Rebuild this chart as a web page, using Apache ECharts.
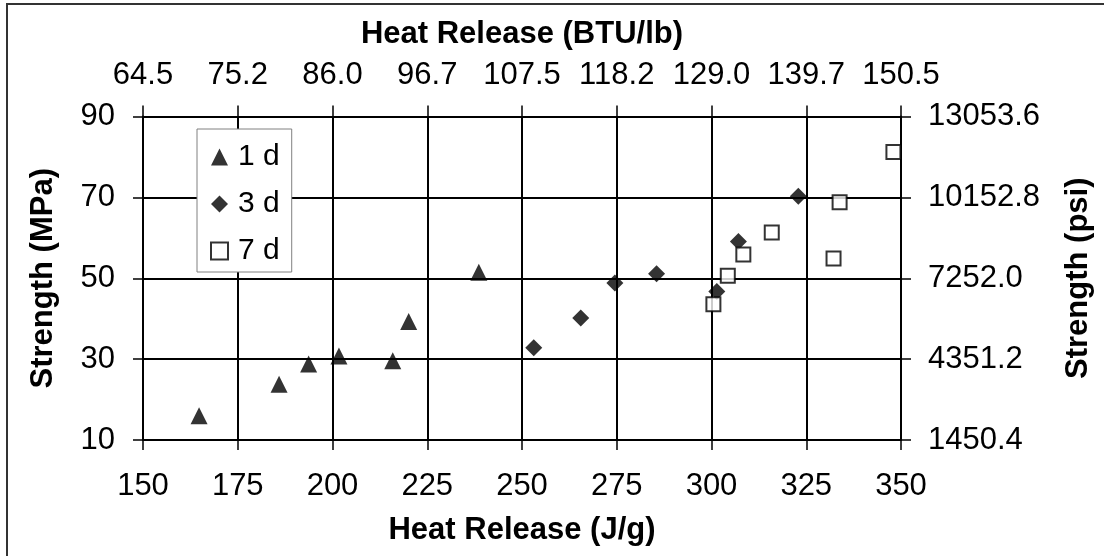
<!DOCTYPE html>
<html>
<head>
<meta charset="utf-8">
<script src="https://cdn.jsdelivr.net/npm/echarts@6/dist/echarts.min.js"></script>
<style>
  html, body { margin: 0; padding: 0; background: #fff; }
  #chart { width: 1104px; height: 556px; }
</style>
</head>
<body>
<div id="chart"></div>
<script>
// [heat release J/g, strength MPa]
const day1 = [[164.8, 16.0], [185.9, 23.8], [193.7, 28.8], [201.7, 30.8], [215.9, 29.6], [220.1, 39.3], [238.6, 51.5]];
const day3 = [[253.1, 32.8], [265.5, 40.2], [274.5, 48.8], [285.5, 51.1], [301.4, 46.7], [307.1, 59.1], [322.9, 70.3]];
const day7 = [[300.5, 43.6], [304.3, 50.6], [308.4, 55.9], [315.9, 61.3], [332.2, 54.9], [333.8, 68.8], [348.0, 81.2]];

const seriesNames = ["1 d", "3 d", "7 d"];

// secondary axis labels (unit conversions printed on the original)
const btuLabels = ["64.5", "75.2", "86.0", "96.7", "107.5", "118.2", "129.0", "139.7", "150.5"];
const psiLabels = ["1450.4", "4351.2", "7252.0", "10152.8", "13053.6"];

const font = 'Arial, "Liberation Sans", sans-serif';
const black = "#000";

const tickFont = { fontSize: 31, color: black, fontFamily: font };
const titleFont = { fontSize: 31, fontWeight: "bold", color: black, fontFamily: font };

const chart = echarts.init(document.getElementById("chart"));

const option = {
  animation: false,
  textStyle: { fontFamily: font, color: black },
  graphic: [
    {
      type: "rect",
      silent: true,
      shape: { x: 7, y: 4, width: 1150, height: 600 },
      style: { fill: "none", stroke: "#333", lineWidth: 2 },
    },
  ],
  legend: {
    orient: "vertical",
    left: 197,
    top: 129,
    padding: [13, 12, 6, 13],
    itemGap: 17,
    itemWidth: 17,
    itemHeight: 17,
    backgroundColor: "#fff",
    borderColor: "#808080",
    borderWidth: 1,
    textStyle: { fontSize: 30, color: black, fontFamily: font, lineHeight: 30, padding: [0, 0, 0, 5] },
    data: seriesNames,
  },
  grid: { left: 143, right: 203, top: 116.5, bottom: 116 },
  xAxis: [
    {
      type: "value",
      position: "bottom",
      min: 150,
      max: 350,
      interval: 25,
      name: "Heat Release (J/g)",
      nameLocation: "middle",
      nameGap: 75,
      nameTextStyle: titleFont,
      axisLine: { lineStyle: { color: black, width: 2 } },
      axisTick: { show: true, length: 10, lineStyle: { color: black, width: 1.5 } },
      axisLabel: { ...tickFont, margin: 31 },
      splitLine: { show: true, lineStyle: { color: black, width: 2 } },
    },
    {
      type: "value",
      position: "top",
      min: 150,
      max: 350,
      interval: 25,
      name: "Heat Release (BTU/lb)",
      nameLocation: "middle",
      nameGap: 67,
      nameTextStyle: titleFont,
      axisLine: { show: true, lineStyle: { color: black, width: 2 } },
      axisTick: { show: true, length: 11, lineStyle: { color: black, width: 1.5 } },
      axisLabel: {
        ...tickFont,
        margin: 26,
        formatter: v => btuLabels[Math.round((v - 150) / 25)],
      },
      splitLine: { show: false },
    },
  ],
  yAxis: [
    {
      type: "value",
      position: "left",
      min: 10,
      max: 90,
      interval: 20,
      name: "Strength (MPa)",
      nameLocation: "middle",
      nameRotate: 90,
      nameGap: 84,
      nameTextStyle: titleFont,
      axisLine: { show: true, lineStyle: { color: black, width: 2 } },
      axisTick: { show: true, length: 10, lineStyle: { color: black, width: 1.5 } },
      axisLabel: { ...tickFont, margin: 28 },
      splitLine: { show: true, lineStyle: { color: black, width: 2 } },
    },
    {
      type: "value",
      position: "right",
      min: 10,
      max: 90,
      interval: 20,
      name: "Strength (psi)",
      nameLocation: "middle",
      nameRotate: 90,
      nameGap: 162,
      nameTextStyle: titleFont,
      axisLine: { show: true, lineStyle: { color: black, width: 2 } },
      axisTick: { show: true, length: 10, lineStyle: { color: black, width: 1.5 } },
      axisLabel: {
        ...tickFont,
        margin: 27,
        formatter: v => psiLabels[Math.round((v - 10) / 20)],
      },
      splitLine: { show: false },
    },
  ],
  series: [
    {
      name: seriesNames[0],
      type: "scatter",
      symbol: "triangle",
      symbolSize: 17,
      itemStyle: { color: black },
      data: day1,
    },
    {
      name: seriesNames[1],
      type: "scatter",
      symbol: "diamond",
      symbolSize: 17,
      itemStyle: { color: black },
      data: day3,
    },
    {
      name: seriesNames[2],
      type: "scatter",
      symbol: "rect",
      symbolSize: 14,
      itemStyle: { color: "#fff", borderColor: black, borderWidth: 2 },
      data: day7,
    },
  ],
};

chart.setOption(option);
</script>
</body>
</html>
